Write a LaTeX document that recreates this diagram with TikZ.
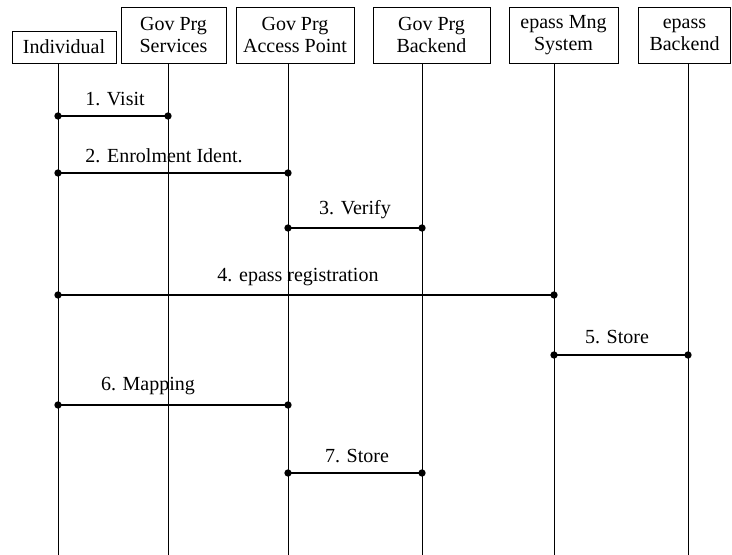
\documentclass[tikz,border=0pt]{standalone}
\usepackage{fontspec}
\setmainfont{Liberation Serif}
\begin{document}
\begin{tikzpicture}[x=0.75pt,y=-0.75pt,
  actor/.style={draw,line width=0.6pt,inner sep=0pt,align=center,font=\fontsize{15}{17}\selectfont},
  life/.style={line width=0.6pt},
  msg/.style={line width=0.9pt},
  lbl/.style={font=\fontsize{15}{16.5}\selectfont,inner sep=0pt},
  dot/.style={circle,fill=black,inner sep=0pt,minimum size=5.5pt}]
\useasboundingbox (0,0) rectangle (732,555);
% actors
\node[actor,minimum width=104*0.75pt,minimum height=32*0.75pt] (ind) at (64,47) {Individual};
\node[actor,minimum width=105*0.75pt,minimum height=56*0.75pt] (svc) at (173.5,35) {Gov Prg\\Services};
\node[actor,minimum width=118*0.75pt,minimum height=56*0.75pt] (acc) at (295,35) {Gov Prg\\Access Point};
\node[actor,minimum width=117*0.75pt,minimum height=56*0.75pt] (gbk) at (431.5,35) {Gov Prg\\Backend};
\node[actor,minimum width=109*0.75pt,minimum height=56*0.75pt] (ems) at (563.5,35) {epass Mng\\System};
\node[actor,minimum width=92*0.75pt,minimum height=56*0.75pt] (ebk) at (684.5,35) {epass\\Backend};
% lifeline ends
\coordinate (indE) at (58,555);
\coordinate (svcE) at (168,555);
\coordinate (accE) at (288,555);
\coordinate (gbkE) at (422,555);
\coordinate (emsE) at (554,555);
\coordinate (ebkE) at (688,555);
\draw[life] (ind.south -| indE) -- (indE);
\draw[life] (svc.south -| svcE) -- (svcE);
\draw[life] (acc.south -| accE) -- (accE);
\draw[life] (gbk.south -| gbkE) -- (gbkE);
\draw[life] (ems.south -| emsE) -- (emsE);
\draw[life] (ebk.south -| ebkE) -- (ebkE);
% message endpoints
\node[dot] (m1a) at (58,116) {}; \node[dot] (m1b) at (168,116) {};
\node[dot] (m2a) at (58,173) {}; \node[dot] (m2b) at (288,173) {};
\node[dot] (m3a) at (288,228) {}; \node[dot] (m3b) at (422,228) {};
\node[dot] (m4a) at (58,295) {}; \node[dot] (m4b) at (554,295) {};
\node[dot] (m5a) at (554,355) {}; \node[dot] (m5b) at (688,355) {};
\node[dot] (m6a) at (58,405) {}; \node[dot] (m6b) at (288,405) {};
\node[dot] (m7a) at (288,473) {}; \node[dot] (m7b) at (422,473) {};
\draw[msg] (m1a.center) -- (m1b.center);
\draw[msg] (m2a.center) -- (m2b.center);
\draw[msg] (m3a.center) -- (m3b.center);
\draw[msg] (m4a.center) -- (m4b.center);
\draw[msg] (m5a.center) -- (m5b.center);
\draw[msg] (m6a.center) -- (m6b.center);
\draw[msg] (m7a.center) -- (m7b.center);
% labels
\node[lbl] (l1) at (115,99) {1. Visit};
\node[lbl] (l2) at (164,156) {2. Enrolment Ident.};
\node[lbl] (l3) at (355,210) {3. Verify};
\node[lbl] (l4) at (298,277) {4. epass registration};
\node[lbl] (l5) at (617,337) {5. Store};
\node[lbl] (l6) at (148,386) {6. Mapping};
\node[lbl] (l7) at (357,456) {7. Store};
\end{tikzpicture}
\end{document}
